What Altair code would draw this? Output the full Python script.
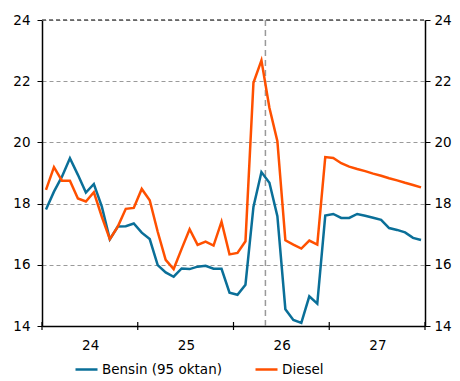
import altair as alt
import pandas as pd

# Monthly values, Jan 2024 - Dec 2027
years = [2024, 2025, 2026, 2027]
month_numbers = list(range(1, 13))
bensin = [17.81, 18.39, 18.88, 19.48, 18.94, 18.36, 18.64, 17.90, 16.83, 17.25, 17.26, 17.35,
          17.05, 16.84, 15.99, 15.75, 15.61, 15.88, 15.86, 15.94, 15.97, 15.87, 15.87, 15.09,
          15.02, 15.35, 17.89, 19.03, 18.68, 17.59, 14.55, 14.20, 14.10, 14.97, 14.73, 17.61,
          17.66, 17.53, 17.53, 17.66, 17.60, 17.54, 17.47, 17.20, 17.14, 17.06, 16.88, 16.81]
diesel = [18.45, 19.19, 18.75, 18.75, 18.17, 18.07, 18.37, 17.57, 16.84, 17.25, 17.83, 17.86,
          18.48, 18.11, 17.08, 16.16, 15.86, 16.52, 17.16, 16.65, 16.76, 16.63, 17.41, 16.34,
          16.39, 16.77, 21.95, 22.68, 21.13, 20.04, 16.80, 16.66, 16.53, 16.79, 16.66, 19.52,
          19.49, 19.32, 19.21, 19.13, 19.06, 18.98, 18.91, 18.83, 18.76, 18.68, 18.61, 18.53]
series_names = ["Bensin (95 oktan)", "Diesel"]
series_colors = ["#0A6F98", "#FF5000"]
marker_year, marker_month = 2026, 5   # vertical dashed line at start of May 2026
year_labels = [2024, 2025, 2026, 2027]
year_ticks = [2024, 2025, 2026, 2027, 2028]
y_ticks = [14, 16, 18, 20, 22, 24]

xs = [y + (m - 0.5) / 12 for y in years for m in month_numbers]
rows = []
for name, vals in zip(series_names, [bensin, diesel]):
    for x, v in zip(xs, vals):
        rows.append({"x": x, "value": v, "series": name})
df = pd.DataFrame(rows)
marker_df = pd.DataFrame({"x": [marker_year + (marker_month - 1) / 12]})
ticks_df = pd.DataFrame({"x": year_ticks})

FONT = "DejaVu Sans"
FS = 13.5

x_axis = alt.Axis(values=year_labels, title=None, grid=False, ticks=False,
                  labelExpr="format(datum.value - 2000, 'd')",
                  labelOffset=48.2, labelFlush=False, labelOverlap=False, labelBound=False,
                  labelPadding=12, labelFont=FONT, labelFontSize=FS, labelColor="#000",
                  domainColor="#000", domainWidth=1.5)
x_scale = alt.Scale(domain=[2024, 2028], nice=False, zero=False)
y_scale = alt.Scale(domain=[14, 24], nice=False, zero=False)

x_enc = alt.X("x:Q", scale=x_scale, axis=x_axis)

left_axis = alt.Axis(orient="left", values=y_ticks, title=None, grid=True,
                     gridDash=[4, 3], gridColor="#9a9a9a", gridWidth=1,
                     domainColor="#000", domainWidth=1.5, tickColor="#000", tickSize=5,
                     labelPadding=7, labelFont=FONT, labelFontSize=FS, labelColor="#000")
right_axis = alt.Axis(orient="right", values=y_ticks, title=None, grid=False,
                      domainColor="#000", domainWidth=1.5, tickColor="#000", tickSize=5,
                      labelPadding=4, labelFont=FONT, labelFontSize=FS, labelColor="#000")

top_rule = alt.Chart(marker_df).mark_rule(color="#555", strokeDash=[4, 3], strokeWidth=1.5).encode(
    y=alt.value(0), x=alt.value(0), x2=alt.value("width"))

vline = alt.Chart(marker_df).mark_rule(color="#999", strokeDash=[6, 4], strokeWidth=1.5).encode(
    x=x_enc)

xticks = alt.Chart(ticks_df).mark_rule(color="#000", strokeWidth=1.2, yOffset=-4, y2Offset=4).encode(
    x=x_enc,
    y=alt.Y(datum=14, type="quantitative", scale=y_scale, axis=None),
    y2=alt.Y2(datum=14))

lines = alt.Chart(df).mark_line(strokeWidth=2.5).encode(
    x=x_enc,
    y=alt.Y("value:Q", scale=y_scale, axis=left_axis),
    color=alt.Color("series:N", scale=alt.Scale(domain=series_names, range=series_colors),
                    legend=alt.Legend(title=None, orient="none", legendX=32, legendY=337,
                                      direction="horizontal", symbolType="stroke",
                                      symbolStrokeWidth=2.5, symbolSize=484,
                                      labelFont=FONT, labelFontSize=13.5, labelColor="#000",
                                      labelOffset=3, columnPadding=28)),
)

dummy = alt.Chart(df).mark_line(opacity=0).encode(
    x=x_enc,
    y=alt.Y("value:Q", scale=y_scale, axis=right_axis),
    detail="series:N",
)

chart = (alt.layer(top_rule, vline, lines, dummy, xticks)
         .resolve_scale(y="shared")
         .resolve_axis(y="independent")
         .properties(width=444, height=373,
                     autosize=alt.AutoSizeParams(type="fit", contains="padding"),
                     padding={"left": 4, "top": 5, "right": 0, "bottom": 29})
         .configure_view(stroke=None))

chart.save("out.html", embed_options={"renderer": "svg", "actions": False})
